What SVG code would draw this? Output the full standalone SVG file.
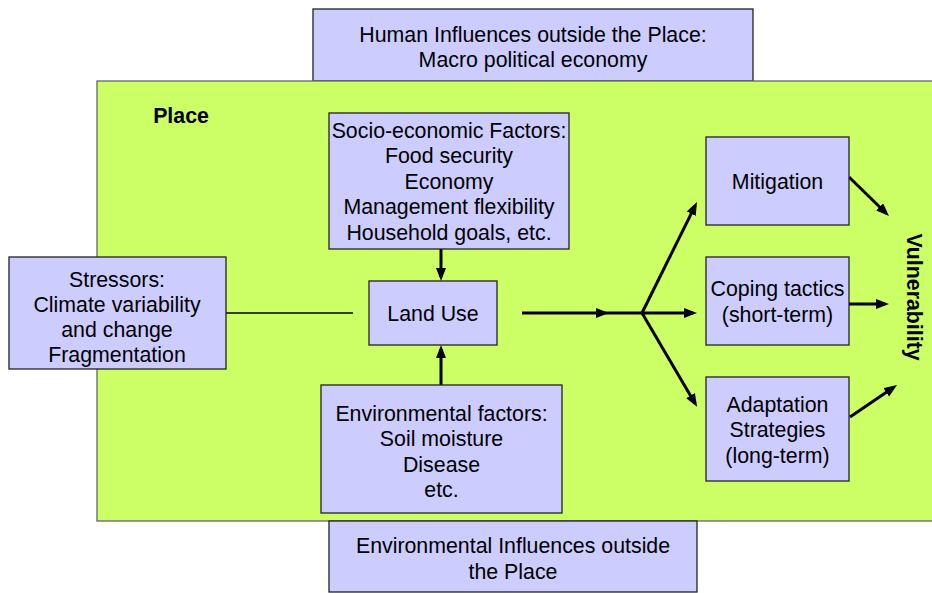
<svg xmlns="http://www.w3.org/2000/svg" width="932" height="593" viewBox="0 0 932 593">
  <defs>
    <style>
      .box { fill: #ccccff; stroke: #222; stroke-width: 1.3; }
      .place { fill: #ccff66; stroke: #666; stroke-width: 1.3; }
      text { font-family: "Liberation Sans", Arial, sans-serif; font-size: 21.33px; fill: #000; text-anchor: middle; }
      .bold { font-weight: bold; }
      .arrow { fill: none; stroke: #000; stroke-width: 3; marker-end: url(#head); }
      .thin { fill: none; stroke: #000; stroke-width: 1.3; }
    </style>
    <marker id="head" markerUnits="userSpaceOnUse" markerWidth="13" markerHeight="11" refX="9" refY="5" orient="auto">
      <path d="M0,0 L13,5 L0,10 z" fill="#000"/>
    </marker>
    <marker id="mid" markerUnits="userSpaceOnUse" markerWidth="13" markerHeight="11" refX="13" refY="5" orient="auto">
      <path d="M0,0 L13,5 L0,10 z" fill="#000"/>
    </marker>
  </defs>

  <!-- outer influences and the place itself -->
  <g id="human-influences">
    <rect class="box" x="313" y="9" width="440" height="72"/>
    <text x="533" y="41.5">Human Influences outside the Place:</text>
    <text x="533" y="66.5">Macro political economy</text>
  </g>

  <g id="place">
    <rect class="place" x="97" y="81" width="845" height="440"/>
    <text class="bold" x="181" y="123">Place</text>
  </g>

  <g id="environmental-influences">
    <rect class="box" x="329" y="521" width="368" height="71"/>
    <text x="513" y="553">Environmental Influences outside</text>
    <text x="513" y="578.5">the Place</text>
  </g>

  <!-- connectors -->
  <g id="connectors">
    <line class="thin" x1="226" y1="313" x2="353" y2="313"/>
    <line class="arrow" x1="441" y1="249" x2="441" y2="277"/>
    <line class="arrow" x1="441" y1="385" x2="441" y2="349"/>
    <path d="M522,313 L609,313 L642,313" fill="none" stroke="#000" stroke-width="3" marker-mid="url(#mid)"/>
    <line class="arrow" x1="642" y1="313" x2="693" y2="313"/>
    <line class="arrow" x1="642" y1="313" x2="695.2" y2="205.6"/>
    <line class="arrow" x1="642" y1="313" x2="695.1" y2="403.4"/>
    <line class="arrow" x1="849" y1="177" x2="886.1" y2="213.2"/>
    <line class="arrow" x1="849" y1="304" x2="885" y2="304"/>
    <line class="arrow" x1="850" y1="417" x2="893.7" y2="387.2"/>
  </g>

  <!-- nodes -->
  <g id="stressors">
    <rect class="box" x="9" y="257" width="217" height="112"/>
    <text x="117" y="286.5">Stressors:</text>
    <text x="117" y="311.8">Climate variability</text>
    <text x="117" y="337.1">and change</text>
    <text x="117" y="362.4">Fragmentation</text>
  </g>

  <g id="socio-economic">
    <rect class="box" x="329" y="113" width="240" height="136"/>
    <text x="449" y="137.5">Socio-economic Factors:</text>
    <text x="449" y="163.1">Food security</text>
    <text x="449" y="188.7">Economy</text>
    <text x="449" y="214.3">Management flexibility</text>
    <text x="449" y="239.9">Household goals, etc.</text>
  </g>

  <g id="land-use">
    <rect class="box" x="369" y="281" width="128" height="64"/>
    <text x="433" y="321">Land Use</text>
  </g>

  <g id="environmental-factors">
    <rect class="box" x="321" y="385" width="241" height="128"/>
    <text x="441.5" y="420.5">Environmental factors:</text>
    <text x="441.5" y="446">Soil moisture</text>
    <text x="441.5" y="471.5">Disease</text>
    <text x="441.5" y="497">etc.</text>
  </g>

  <g id="mitigation">
    <rect class="box" x="706" y="137" width="143" height="88"/>
    <text x="777.5" y="189">Mitigation</text>
  </g>

  <g id="coping">
    <rect class="box" x="706" y="257" width="143" height="88"/>
    <text x="777.5" y="296">Coping tactics</text>
    <text x="777.5" y="321.6">(short-term)</text>
  </g>

  <g id="adaptation">
    <rect class="box" x="706" y="377" width="143" height="104"/>
    <text x="777.5" y="411.5">Adaptation</text>
    <text x="777.5" y="437">Strategies</text>
    <text x="777.5" y="462.5">(long-term)</text>
  </g>

  <g id="vulnerability">
    <text class="bold" transform="translate(906.5,297) rotate(90)">Vulnerability</text>
  </g>
</svg>
